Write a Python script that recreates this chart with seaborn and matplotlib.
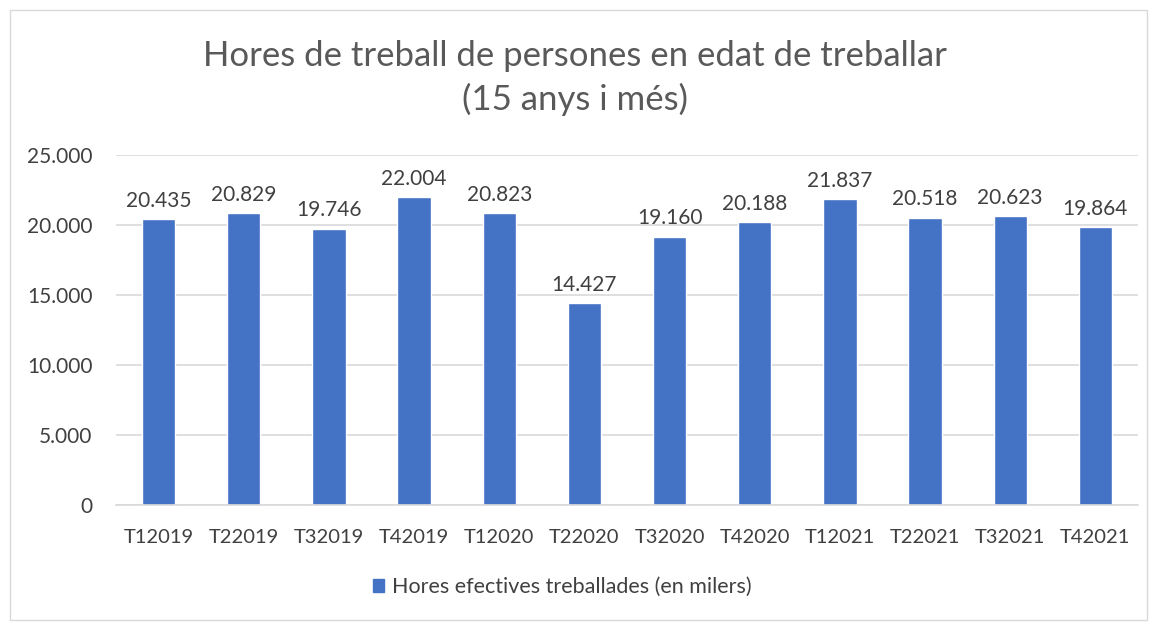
import matplotlib
matplotlib.use("Agg")
import matplotlib.pyplot as plt
import seaborn as sns
import pandas as pd
from matplotlib.patches import Rectangle, Patch

categories = ["T12019", "T22019", "T32019", "T42019", "T12020", "T22020",
              "T32020", "T42020", "T12021", "T22021", "T32021", "T42021"]
values = [20435, 20829, 19746, 22004, 20823, 14427, 19160, 20188, 21837, 20518, 20623, 19864]
series_name = "Hores efectives treballades (en milers)"
title = "Hores de treball de persones en edat de treballar\n(15 anys i més)"
yticks = [0, 5000, 10000, 15000, 20000, 25000]

sns.set_theme(style="white")
plt.rcParams['font.family'] = ['Lato', 'DejaVu Sans']

def fmt(v):
    return f"{v:,.0f}".replace(",", ".")

df = pd.DataFrame({"cat": categories, "val": values})

fig = plt.figure(figsize=(11.5, 6.24), dpi=100)
ax = fig.add_axes([116/1150, 1 - 505/624, (1138 - 116)/1150, (505 - 155)/624])
bar_color = "#4472C4"
sns.barplot(data=df, x="cat", y="val", color=bar_color, width=0.39, ax=ax, saturation=1)

ax.set_ylim(0, 25000)
ax.set_yticks(yticks)
ax.set_yticklabels([fmt(v) for v in yticks], fontsize=15, color="#404040")
ax.tick_params(axis='x', labelsize=14.5, colors="#404040", length=0, pad=17)
ax.tick_params(axis='y', length=0, pad=17)
ax.set_xlabel("")
ax.set_ylabel("")
ax.yaxis.grid(True, color="#D9D9D9", linewidth=1.2)
ax.set_axisbelow(True)
for s in ["top", "right", "left"]:
    ax.spines[s].set_visible(False)
ax.spines["bottom"].set_color("#D9D9D9")
ax.spines["bottom"].set_linewidth(1.2)
ax.set_xlim(-0.5, len(categories) - 0.5)

for i, v in enumerate(values):
    ax.text(i, v + 600, fmt(v), ha="center", va="bottom", fontsize=15, color="#404040")

fig.text(0.5, 1 - 78/624, title, ha="center", va="center", fontsize=25, color="#595959",
         linespacing=1.38)

handles = [Patch(facecolor=bar_color, edgecolor=bar_color)]
fig.legend(handles, [series_name], loc="center", bbox_to_anchor=(562/1150, 1 - 587/624),
           frameon=False, fontsize=15.5, handlelength=0.55, handleheight=0.55,
           handletextpad=0.35, labelcolor="#404040")

fig.patches.append(Rectangle((10/1150, 4/624), 1137/1150, 610/624, transform=fig.transFigure,
                             fill=False, edgecolor="#D9D9D9", linewidth=1))

fig.savefig("out.png", dpi=100)
